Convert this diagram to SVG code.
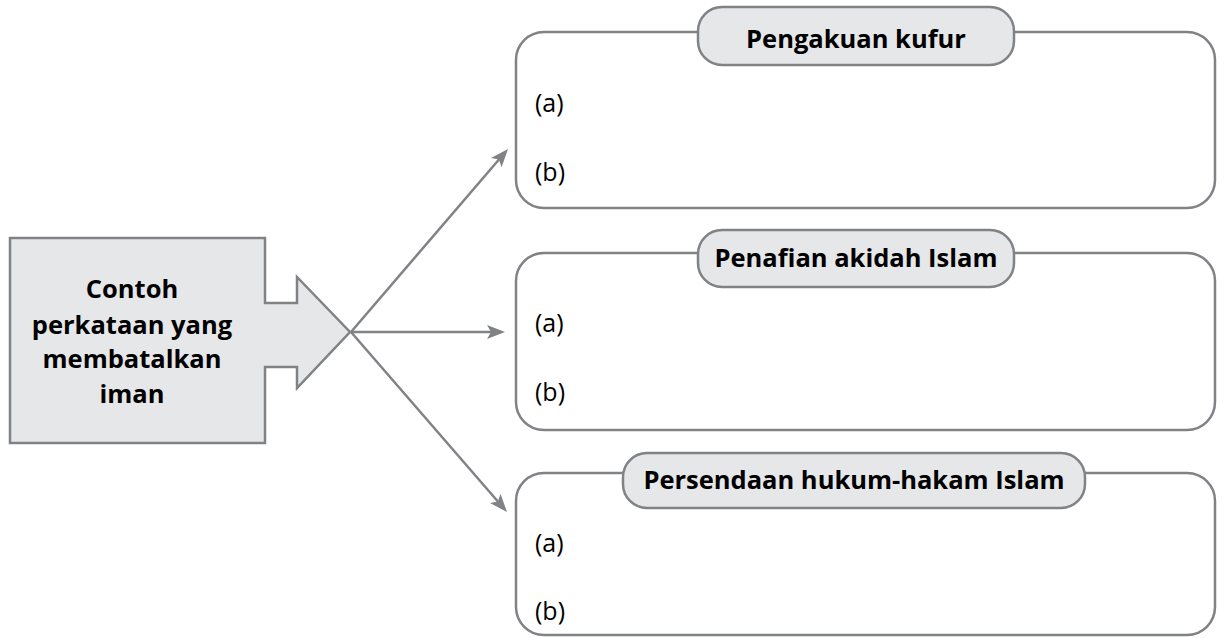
<svg xmlns="http://www.w3.org/2000/svg" width="1225" height="638" viewBox="0 0 1225 638">
<defs>
<style>
.shape{fill:#e6e7e8;stroke:#808285;stroke-width:2.5}
.box{fill:#ffffff;stroke:#808285;stroke-width:2.5}
.tab{fill:#e6e7e8;stroke:#808285;stroke-width:2.5}
.conn{stroke:#808285;stroke-width:2.5;fill:none}
.bt{font-family:"Open Sans","Noto Sans",sans-serif;font-weight:bold;font-size:25.5px;fill:#000;text-anchor:middle}
.rt{font-family:"Open Sans","Noto Sans",sans-serif;font-size:25px;fill:#000}
</style>
<marker id="ah" viewBox="0 0 18 14" refX="14" refY="7" markerWidth="18" markerHeight="14" markerUnits="userSpaceOnUse" orient="auto">
<path d="M0,0 L18,7 L0,14 L4,7 Z" fill="#808285"/>
</marker>
</defs>
<rect width="1225" height="638" fill="#ffffff"/>
<g id="source">
<polygon class="shape" points="10,238 265,238 265,303 297,303 297,277 350,332 297,388 297,367 265,367 265,443 10,443"/>
<text class="bt" x="132" y="298">Contoh</text>
<text class="bt" x="132" y="334">perkataan yang</text>
<text class="bt" x="132" y="368">membatalkan</text>
<text class="bt" x="132" y="403">iman</text>
</g>
<g id="connectors">
<line class="conn" x1="351" y1="332" x2="505.4" y2="152" marker-end="url(#ah)"/>
<line class="conn" x1="351" y1="332" x2="501" y2="332" marker-end="url(#ah)"/>
<line class="conn" x1="351" y1="332" x2="504.4" y2="509" marker-end="url(#ah)"/>
</g>
<g id="box1">
<rect class="box" x="516" y="32" width="699" height="176" rx="28"/>
<rect class="tab" x="698" y="7" width="316" height="58" rx="24"/>
<text class="bt" x="856" y="48">Pengakuan kufur</text>
<text class="rt" x="535" y="112">(a)</text>
<text class="rt" x="535" y="181">(b)</text>
</g>
<g id="box2">
<rect class="box" x="516" y="253" width="699" height="177" rx="28"/>
<rect class="tab" x="698" y="230" width="316" height="57" rx="24"/>
<text class="bt" x="856" y="267">Penafian akidah Islam</text>
<text class="rt" x="535" y="332">(a)</text>
<text class="rt" x="535" y="401">(b)</text>
</g>
<g id="box3">
<rect class="box" x="516" y="473" width="699" height="162" rx="28"/>
<rect class="tab" x="623" y="453" width="462" height="55" rx="24"/>
<text class="bt" x="854" y="489">Persendaan hukum-hakam Islam</text>
<text class="rt" x="535" y="552">(a)</text>
<text class="rt" x="535" y="620">(b)</text>
</g>
</svg>
